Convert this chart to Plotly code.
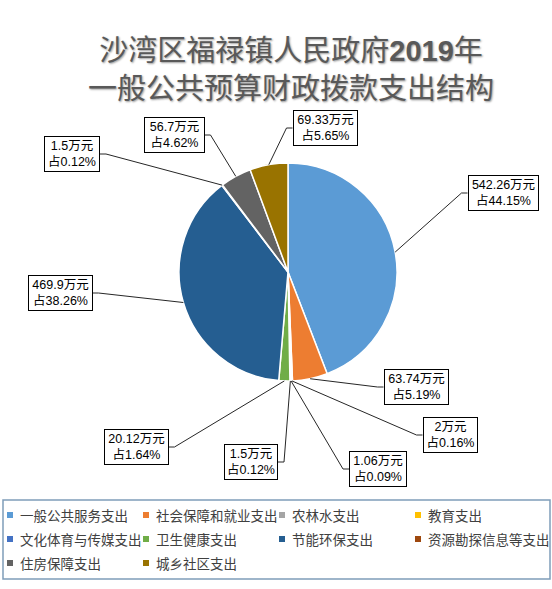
import math
import plotly.graph_objects as go

W, H = 552, 589

# data
categories = ["一般公共服务支出", "社会保障和就业支出", "农林水支出", "教育支出",
              "文化体育与传媒支出", "卫生健康支出", "节能环保支出", "资源勘探信息等支出",
              "住房保障支出", "城乡社区支出"]
values = [542.26, 63.74, 2, 1.06, 1.5, 20.12, 469.9, 1.5, 56.7, 69.33]
colors = ["#5B9BD5", "#ED7D31", "#A5A5A5", "#FFC000", "#4472C4",
          "#70AD47", "#255E91", "#9E480E", "#636363", "#997300"]
title_text = "沙湾区福禄镇人民政府<b>2019</b>年<br>一般公共预算财政拨款支出结构"

# layout: label box centres / widths in px, pie centre and radius
label_pos = [(503, 193), (416, 387), (450, 435), (378, 469), (251, 462),
             (136, 447), (60, 293), (72, 154), (174, 135), (325, 128)]
label_w = [71, 65, 55, 58, 54, 65, 65, 56, 61, 65]
cx, cy, R = 288, 272, 109

FONT = "Liberation Sans, Noto Sans CJK SC"


def X(x):
    return x / W


def Y(y):
    return 1 - y / H


total = sum(values)

fig = go.Figure(go.Pie(
    labels=categories, values=values, sort=False, direction="clockwise",
    rotation=0, textinfo="none", hoverinfo="label+value+percent",
    marker=dict(colors=colors, line=dict(color="white", width=1.5)),
    domain=dict(x=[X(cx - R), X(cx + R)], y=[Y(cy + R), Y(cy - R)]),
    showlegend=False,
))

shapes = []
annotations = []

# title
annotations.append(dict(
    x=X(291), y=Y(70), xref="paper", yref="paper", showarrow=False,
    xanchor="center", yanchor="middle", text=title_text,
    font=dict(family=FONT, size=29, color="#595959",
              shadow="1px 1px 2px #9a9a9a")))

# data labels with elbow leader lines
cum = 0
for i, v in enumerate(values):
    mid = (cum + v / 2) / total * 2 * math.pi
    cum += v
    px_ = cx + R * math.sin(mid)
    py_ = cy - R * math.cos(mid)
    bx, by = label_pos[i]
    half = label_w[i] / 2
    if px_ > bx:
        ex = bx + half
        elbow = ex + 6
    else:
        ex = bx - half
        elbow = ex - 6
    shapes.append(dict(
        type="path", xref="paper", yref="paper",
        path=f"M{X(px_)},{Y(py_)} L{X(elbow)},{Y(by)} L{X(ex)},{Y(by)}",
        line=dict(color="#262626", width=1)))
    pct = v / total * 100
    annotations.append(dict(
        x=X(bx), y=Y(by), xref="paper", yref="paper", showarrow=False,
        xanchor="center", yanchor="middle",
        text=f"{v:g}万元<br>占{pct:.2f}%", align="center",
        width=label_w[i] - 6, borderpad=2,
        bordercolor="#000000", borderwidth=1, bgcolor="white",
        font=dict(family=FONT, size=12.5, color="#000000")))

# legend drawn by hand (4 columns)
leg_cols = [10, 146, 282, 418]
leg_rows = [515, 539, 563]
shapes.append(dict(type="rect", xref="paper", yref="paper",
                   x0=X(3), x1=X(550), y0=Y(579), y1=Y(500),
                   line=dict(color="#7F9DB9", width=1.5)))
for i, name in enumerate(categories):
    mx = leg_cols[i % 4]
    my = leg_rows[i // 4]
    shapes.append(dict(type="rect", xref="paper", yref="paper",
                       x0=X(mx - 3), x1=X(mx + 3), y0=Y(my + 3), y1=Y(my - 3),
                       fillcolor=colors[i], line=dict(width=0)))
    annotations.append(dict(
        x=X(mx + 8), y=Y(my), xref="paper", yref="paper", showarrow=False,
        xanchor="left", yanchor="middle", text=name,
        font=dict(family="Noto Sans CJK SC", size=13.5, color="#404040")))

fig.update_layout(
    width=W, height=H,
    margin=dict(l=0, r=0, t=0, b=0),
    paper_bgcolor="white", plot_bgcolor="white",
    shapes=shapes,
    annotations=annotations,
)

# drop the default body margin so the figure sits at the page corner
fig.write_html("out.html", config={"displayModeBar": False},
               post_script="document.body.style.margin='0';document.body.style.overflow='hidden';")
